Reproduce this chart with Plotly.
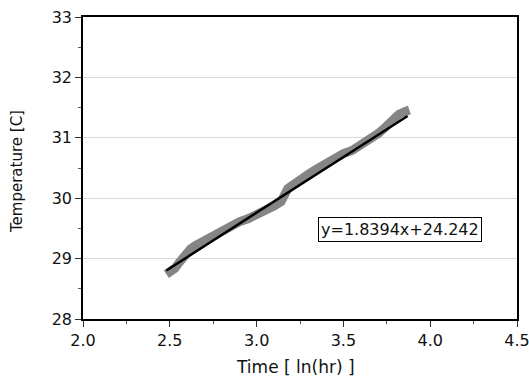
import plotly.graph_objects as go

# measured data (ln(hr), temperature)
time_ln = [2.48, 2.50, 2.53, 2.55, 2.58, 2.60, 2.62, 2.65, 2.70, 2.75, 2.80, 2.85,
           2.90, 2.95, 3.00, 3.05, 3.10, 3.14, 3.16, 3.18, 3.22, 3.25, 3.30, 3.35,
           3.40, 3.45, 3.50, 3.55, 3.60, 3.65, 3.70, 3.74, 3.78, 3.82, 3.86, 3.88]
temperature = [28.74, 28.77, 28.84, 28.92, 29.03, 29.10, 29.16, 29.22, 29.30, 29.38, 29.47, 29.55,
               29.61, 29.66, 29.72, 29.79, 29.87, 29.94, 30.02, 30.16, 30.24, 30.31, 30.40, 30.49,
               30.58, 30.67, 30.74, 30.79, 30.87, 30.97, 31.07, 31.17, 31.30, 31.39, 31.44, 31.46]

# linear fit
slope = 1.8394
intercept = 24.242
fit_x = [2.48, 3.87]
fit_y = [slope * v + intercept for v in fit_x]
fit_label = "y=1.8394x+24.242"

x_ticks = [2.0, 2.5, 3.0, 3.5, 4.0, 4.5]
x_ticklabels = ["2.0", "2.5", "3.0", "3.5", "4.0", "4.5"]
y_ticks = [28, 29, 30, 31, 32, 33]
y_ticklabels = ["28", "29", "30", "31", "32", "33"]

FONT = "DejaVu Sans"

fig = go.Figure()
fig.add_trace(go.Scatter(x=time_ln, y=temperature, mode="lines",
                         line=dict(color="#858585", width=9), showlegend=False))
fig.add_trace(go.Scatter(x=fit_x, y=fit_y, mode="lines",
                         line=dict(color="black", width=2.5), showlegend=False))

fig.update_layout(
    width=529, height=376,
    margin=dict(l=83, r=12, t=17, b=57, autoexpand=False),
    plot_bgcolor="white", paper_bgcolor="white",
    font=dict(family=FONT, size=16, color="#111"),
    xaxis=dict(range=[2.0, 4.5], tickvals=x_ticks, ticktext=x_ticklabels, automargin=False,
               ticklabeloverflow="allow",
               showline=True, linecolor="black", linewidth=1.5, mirror=True,
               ticks="outside", ticklen=6, tickcolor="#333", tickwidth=1,
               minor=dict(ticks="outside", ticklen=3, tickcolor="#555", dtick=0.25, showgrid=False),
               showgrid=False, zeroline=False, tickfont=dict(size=16)),
    yaxis=dict(range=[28, 33], tickvals=y_ticks, ticktext=y_ticklabels, automargin=False,
               ticklabeloverflow="allow",
               showline=True, linecolor="black", linewidth=1.5, mirror=True,
               ticks="outside", ticklen=6, tickcolor="#333", tickwidth=1,
               minor=dict(ticks="outside", ticklen=3, tickcolor="#555", dtick=0.5, showgrid=False),
               showgrid=True, gridcolor="#d9d9d9", gridwidth=1, zeroline=False,
               tickfont=dict(size=16)),
    annotations=[
        dict(x=3.826, y=29.48, xref="x", yref="y", text=fit_label, showarrow=False,
             font=dict(family=FONT, size=16, color="#111"),
             bordercolor="black", borderwidth=1, borderpad=2, bgcolor="white"),
        dict(x=0.5, y=0, xref="paper", yref="paper", text="Time [ ln(hr) ]", showarrow=False,
             xanchor="center", yanchor="middle", xshift=-5, yshift=-48,
             font=dict(family=FONT, size=17, color="#111")),
        dict(x=0, y=0.5, xref="paper", yref="paper", text="Temperature [C]", showarrow=False,
             textangle=-90, xanchor="center", yanchor="middle", xshift=-66, yshift=-4,
             font=dict(family=FONT, size=15, color="#111")),
    ],
)

fig.write_html("out.html", config={"displayModeBar": False},
               post_script="document.body.style.margin='0px';document.body.style.overflow='hidden';")
